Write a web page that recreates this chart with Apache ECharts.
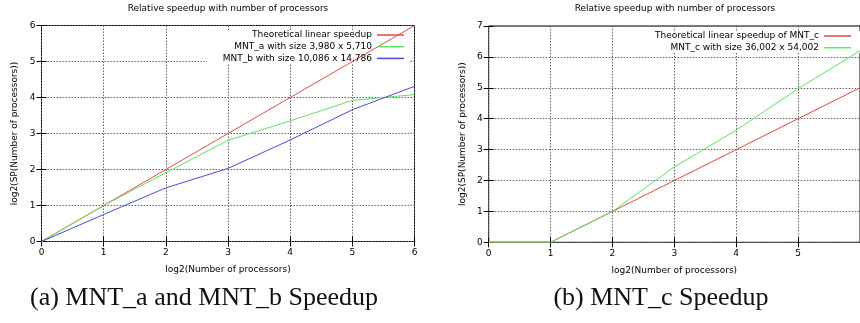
<!DOCTYPE html>
<html>
<head>
<meta charset="utf-8">
<script src="https://cdn.jsdelivr.net/npm/echarts@6/dist/echarts.min.js"></script>
<style>
  html, body {margin: 0; padding: 0; background: #fff;}
  #main {width: 860px; height: 323px;}
</style>
</head>
<body>
<div id="main"></div>
<script>
// log2(number of processors)
const procsA = [0, 1, 2, 3, 4, 5, 6];
const linearA = [0, 1, 2, 3, 4, 5, 6];
const mntA = [0, 1, 1.91, 2.81, 3.35, 3.92, 4.08];
const mntB = [0, 0.75, 1.49, 2.03, 2.82, 3.66, 4.31];

const procsC = [0, 1, 2, 3, 4, 5, 6];
const linearC = [0, 0, 1, 2, 3, 4, 5];
const mntC = [0, 0, 1, 2.44, 3.63, 4.97, 6.2];

const yTicksA = [0, 1, 2, 3, 4, 5, 6];
const yTicksC = [0, 1, 2, 3, 4, 5, 6, 7];

const titleText = 'Relative speedup with number of processors';
const xName = 'log2(Number of processors)';
const yName = 'log2(SP(Number of processors))';

const RED = '#e34a4a', GREEN = '#5fe35f', BLUE = '#4b4bdc';
const FONT = 'DejaVu Sans';

const pairs = (xs, ys) => xs.map((x, i) => [x, ys[i]]);

const grids = [
    {left: 41.5, top: 25.5, width: 373, height: 216},
    {left: 488.7, top: 26, width: 372, height: 216.3}
];

const splitStyle = {show: true, lineStyle: {color: '#666', width: 1, type: [1.5, 1.5]}};
const tick = {show: true, inside: true, length: 5, lineStyle: {color: '#000'}};
const label = {color: '#000', fontFamily: FONT, fontSize: 9};

function xAxes(gi, max, hideMax) {
    return [{
        type: 'value', gridIndex: gi, min: 0, max: max, interval: 1,
        name: xName, nameLocation: 'middle', nameGap: 24,
        nameTextStyle: {color: '#000', fontFamily: FONT, fontSize: 9},
        axisLine: {show: false}, axisTick: tick, splitLine: splitStyle,
        axisLabel: {...label, margin: 7, showMaxLabel: !hideMax}
    }, {
        type: 'value', gridIndex: gi, position: 'top', min: 0, max: max, interval: 1,
        axisLine: {show: false}, axisTick: tick, splitLine: {show: false},
        axisLabel: {show: false}
    }];
}

function yAxes(gi, ticks) {
    const max = ticks[ticks.length - 1];
    return [{
        type: 'value', gridIndex: gi, min: 0, max: max, interval: 1,
        name: yName, nameLocation: 'middle', nameGap: 22,
        nameTextStyle: {color: '#000', fontFamily: FONT, fontSize: 9},
        axisLine: {show: false}, axisTick: tick, splitLine: splitStyle,
        axisLabel: {...label, margin: 6}
    }, {
        type: 'value', gridIndex: gi, position: 'right', min: 0, max: max, interval: 1,
        axisLine: {show: false}, axisTick: tick, splitLine: {show: false},
        axisLabel: {show: false}
    }];
}

function line(name, xi, yi, data, color) {
    return {
        name: name, type: 'line', xAxisIndex: xi, yAxisIndex: yi,
        data: data, symbol: 'none', z: 3,
        itemStyle: {color: color},
        lineStyle: {color: color, width: 1}
    };
}

const legendBase = {
    orient: 'vertical', align: 'right', icon: 'rect',
    itemWidth: 27, itemHeight: 1.5, itemGap: 2.7, padding: 0,
    textStyle: {color: '#000', fontFamily: FONT, fontSize: 9, lineHeight: 9}
};

const chart = echarts.init(document.getElementById('main'));
chart.setOption({
    animation: false,
    backgroundColor: '#fff',
    grid: grids.map(g => ({...g, show: true, borderColor: '#000', borderWidth: 1, backgroundColor: 'transparent'})),
    xAxis: [...xAxes(0, 6, false), ...xAxes(1, 6, true)],
    yAxis: [...yAxes(0, yTicksA), ...yAxes(1, yTicksC)],
    legend: [
        {...legendBase, right: 456, top: 30.5,
            data: ['Theoretical linear speedup', 'MNT_a with size 3,980 x 5,710', 'MNT_b with size 10,086 x 14,786']},
        {...legendBase, right: 9, top: 31.5,
            data: ['Theoretical linear speedup of MNT_c', 'MNT_c with size 36,002 x 54,002']}
    ],
    graphic: [
        // key boxes hide the grid lines behind them
        {type: 'rect', z: 1, silent: true, shape: {x: 207, y: 31, width: 202, height: 32}, style: {fill: '#fff'}},
        {type: 'rect', z: 1, silent: true, shape: {x: 650, y: 31, width: 210, height: 22}, style: {fill: '#fff'}},
        {type: 'text', x: 228, y: 8.5, style: {text: titleText, font: '9px "DejaVu Sans"', fill: '#000', textAlign: 'center', textVerticalAlign: 'middle'}},
        {type: 'text', x: 675, y: 8.5, style: {text: titleText, font: '9px "DejaVu Sans"', fill: '#000', textAlign: 'center', textVerticalAlign: 'middle'}},
        {type: 'text', x: 204, y: 298, style: {text: '(a) MNT_a and MNT_b Speedup', font: '26px "Liberation Serif"', fill: '#111', textAlign: 'center', textVerticalAlign: 'middle'}},
        {type: 'text', x: 661, y: 298, style: {text: '(b) MNT_c Speedup', font: '26px "Liberation Serif"', fill: '#111', textAlign: 'center', textVerticalAlign: 'middle'}}
    ],
    series: [
        line('Theoretical linear speedup', 0, 0, pairs(procsA, linearA), RED),
        line('MNT_a with size 3,980 x 5,710', 0, 0, pairs(procsA, mntA), GREEN),
        line('MNT_b with size 10,086 x 14,786', 0, 0, pairs(procsA, mntB), BLUE),
        line('Theoretical linear speedup of MNT_c', 2, 2, pairs(procsC, linearC), RED),
        line('MNT_c with size 36,002 x 54,002', 2, 2, pairs(procsC, mntC), GREEN)
    ]
});
</script>
</body>
</html>
